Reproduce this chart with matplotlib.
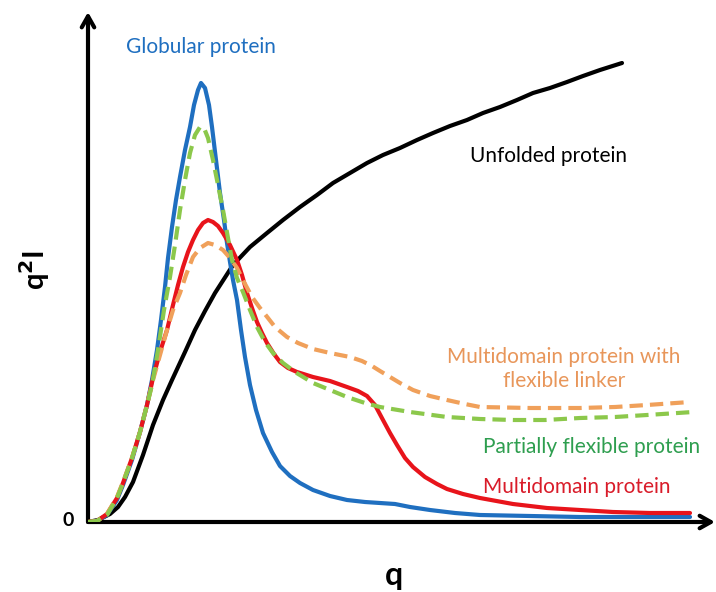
import matplotlib.pyplot as plt

# curve points (q and q^2*I in arbitrary units)
glob_q = [0, 0.09, 0.19, 0.29, 0.35, 0.44, 0.52, 0.59, 0.64, 0.69, 0.73, 0.77, 0.80, 0.84, 0.88,
          0.92, 0.97, 1.02, 1.06, 1.10, 1.13, 1.17, 1.21, 1.24, 1.28, 1.32, 1.36, 1.39, 1.42, 1.45,
          1.49, 1.53, 1.57, 1.62, 1.68, 1.75, 1.84, 1.92, 2.02, 2.12, 2.25, 2.42, 2.59, 2.77, 2.92,
          3.07, 3.22, 3.42, 3.67, 3.92, 4.42, 4.92, 6.02]
glob_i = [0, 0.01, 0.07, 0.22, 0.37, 0.62, 0.90, 1.17, 1.42, 1.72, 2.02, 2.35, 2.64, 2.95, 3.22,
          3.45, 3.72, 3.95, 4.17, 4.32, 4.39, 4.34, 4.17, 3.95, 3.62, 3.29, 3.02, 2.79, 2.60, 2.42,
          2.22, 1.92, 1.65, 1.37, 1.12, 0.89, 0.70, 0.56, 0.46, 0.39, 0.32, 0.26, 0.22, 0.20, 0.19,
          0.18, 0.15, 0.12, 0.09, 0.07, 0.06, 0.05, 0.05]

flex_q = [0, 0.09, 0.19, 0.29, 0.35, 0.44, 0.52, 0.59, 0.64, 0.70, 0.76, 0.82, 0.87, 0.92, 0.97,
          1.02, 1.07, 1.12, 1.16, 1.20, 1.25, 1.30, 1.35, 1.40, 1.44, 1.49, 1.55, 1.62, 1.69, 1.77,
          1.85, 1.95, 2.07, 2.25, 2.42, 2.59, 2.77, 2.92, 3.22, 3.59, 3.92, 4.25, 4.57, 4.92, 5.27,
          5.59, 6.05]
flex_i = [0, 0.01, 0.07, 0.24, 0.39, 0.64, 0.90, 1.17, 1.37, 1.72, 2.12, 2.45, 2.77, 3.12, 3.42,
          3.69, 3.87, 3.95, 3.94, 3.84, 3.62, 3.37, 3.12, 2.84, 2.62, 2.44, 2.30, 2.12, 1.95, 1.80,
          1.69, 1.59, 1.50, 1.39, 1.32, 1.25, 1.19, 1.15, 1.10, 1.05, 1.03, 1.02, 1.02, 1.04, 1.05,
          1.07, 1.10]

multi_q = [0, 0.09, 0.19, 0.29, 0.35, 0.44, 0.52, 0.59, 0.65, 0.72, 0.79, 0.85, 0.90, 0.95, 1.00,
           1.05, 1.10, 1.15, 1.20, 1.25, 1.30, 1.35, 1.42, 1.49, 1.54, 1.59, 1.64, 1.69, 1.74, 1.79,
           1.86, 1.92, 2.00, 2.09, 2.25, 2.42, 2.59, 2.70, 2.79, 2.87, 2.95, 3.02, 3.09, 3.17, 3.25,
           3.37, 3.49, 3.59, 3.75, 3.92, 4.25, 4.59, 4.92, 5.25, 5.62, 6.02]
multi_i = [0, 0.01, 0.08, 0.24, 0.39, 0.64, 0.90, 1.17, 1.44, 1.70, 1.92, 2.17, 2.37, 2.55, 2.70,
           2.82, 2.92, 2.99, 3.02, 3.00, 2.96, 2.89, 2.77, 2.62, 2.47, 2.29, 2.14, 2.00, 1.89, 1.79,
           1.68, 1.60, 1.54, 1.50, 1.45, 1.41, 1.35, 1.31, 1.26, 1.17, 1.02, 0.89, 0.77, 0.64, 0.55,
           0.45, 0.38, 0.33, 0.28, 0.24, 0.18, 0.14, 0.12, 0.10, 0.09, 0.09]

linker_q = [0, 0.09, 0.19, 0.29, 0.35, 0.44, 0.52, 0.59, 0.65, 0.72, 0.79, 0.85, 0.92, 0.98, 1.05,
            1.12, 1.20, 1.27, 1.35, 1.42, 1.49, 1.56, 1.64, 1.72, 1.80, 1.87, 1.99, 2.10, 2.25, 2.42,
            2.62, 2.74, 2.84, 2.92, 3.02, 3.12, 3.25, 3.42, 3.59, 3.77, 3.92, 4.42, 4.92, 5.27, 5.59,
            6.02]
linker_i = [0, 0.01, 0.08, 0.25, 0.40, 0.64, 0.90, 1.17, 1.42, 1.67, 1.92, 2.12, 2.29, 2.47, 2.65,
            2.74, 2.79, 2.77, 2.72, 2.64, 2.54, 2.40, 2.25, 2.14, 2.04, 1.95, 1.85, 1.79, 1.73, 1.69,
            1.65, 1.61, 1.56, 1.51, 1.45, 1.39, 1.32, 1.26, 1.22, 1.18, 1.15, 1.14, 1.14, 1.15, 1.17,
            1.20]

unf_q = [0, 0.10, 0.22, 0.30, 0.37, 0.45, 0.55, 0.65, 0.75, 0.84, 0.97, 1.07, 1.17, 1.27, 1.45,
         1.62, 1.79, 1.95, 2.12, 2.29, 2.45, 2.62, 2.79, 2.95, 3.12, 3.29, 3.45, 3.62, 3.79, 3.95,
         4.12, 4.29, 4.45, 4.62, 4.79, 4.95, 5.12, 5.34]
unf_i = [0, 0.02, 0.08, 0.15, 0.25, 0.40, 0.67, 0.97, 1.22, 1.42, 1.70, 1.92, 2.11, 2.29, 2.57,
         2.75, 2.89, 3.02, 3.15, 3.27, 3.39, 3.49, 3.59, 3.67, 3.74, 3.82, 3.89, 3.96, 4.02, 4.09,
         4.15, 4.22, 4.29, 4.34, 4.40, 4.46, 4.52, 4.59]

W, H = 716, 592
fig = plt.figure(figsize=(W / 100, H / 100), dpi=100)
ax = fig.add_axes([88 / W, 70 / H, (W - 88) / W, (522 - 12) / H])
ax.set_xlim(0, (W - 88) / 100)
ax.set_ylim(0, (522 - 12) / 100)
ax.axis('off')

font = 'Lato'
lw = 3
fs = 15

ax.plot(unf_q, unf_i, color='black', lw=lw, solid_capstyle='round', solid_joinstyle='round', zorder=2)
ax.plot(glob_q, glob_i, color='#1f6fc0', lw=lw, solid_capstyle='round', solid_joinstyle='round', zorder=3)
ax.plot(multi_q, multi_i, color='#e8141b', lw=lw, solid_capstyle='round', solid_joinstyle='round', zorder=4)
ax.plot(linker_q, linker_i, color='#f0a05a', lw=lw, dashes=(3.2, 1.7), zorder=5)
ax.plot(flex_q, flex_i, color='#8cc84b', lw=lw, dashes=(3.2, 1.7), zorder=6)

# axes with arrow heads
arrow = dict(arrowstyle='->,head_width=0.45,head_length=0.8', lw=3, color='black',
             shrinkA=0, shrinkB=0)
ax.annotate('', xy=(627 / 628, 0), xytext=(0, 0), xycoords='axes fraction',
            arrowprops=arrow, annotation_clip=False)
ax.annotate('', xy=(0, 1), xytext=(0, 0), xycoords='axes fraction',
            arrowprops=arrow, annotation_clip=False)

ax.text(-0.2, 0.02, '0', fontsize=14, fontweight='bold', family=font, ha='center', va='center')
fig.text(394 / W, 1 - 575 / H, 'q', fontsize=23, fontweight='bold', family=font,
         ha='center', va='center')
fig.text(35 / W, 1 - 270 / H, 'q$^\\mathbf{2}$I', fontsize=21, fontweight='bold', family=font,
         ha='center', va='center', rotation=90)

ax.text(1.13, 4.75, 'Globular protein', color='#1f6fc0', fontsize=fs, family=font,
        ha='center', va='center')
ax.text(4.6, 3.66, 'Unfolded protein', color='black', fontsize=fs, family=font,
        ha='center', va='center')
ax.text(4.76, 1.53, 'Multidomain protein with\nflexible linker', color='#e8965a',
        fontsize=fs, family=font, ha='center', va='center', linespacing=1.3)
ax.text(5.04, 0.75, 'Partially flexible protein', color='#2e9e4f', fontsize=fs,
        family=font, ha='center', va='center')
ax.text(4.89, 0.35, 'Multidomain protein', color='#d91c2a', fontsize=fs, family=font,
        ha='center', va='center')

fig.savefig('out.png', dpi=100)
